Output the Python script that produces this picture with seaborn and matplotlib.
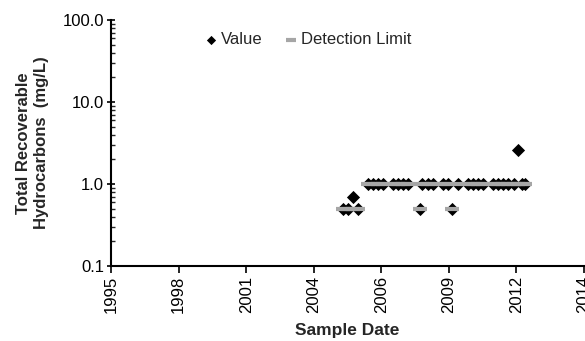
import numpy as np
import pandas as pd
import matplotlib
matplotlib.use('Agg')
import matplotlib.pyplot as plt
import matplotlib.dates as mdates
from matplotlib.ticker import LogLocator, FixedFormatter, NullFormatter
import seaborn as sns

# sample data
sample_dates = ['2005-03-20', '2005-06-05', '2005-08-18', '2005-10-31',
                '2006-03-28', '2006-06-10', '2006-08-23', '2006-11-05',
                '2007-04-02', '2007-06-15', '2007-08-28', '2007-11-10',
                '2008-05-05', '2008-06-04', '2008-09-01', '2008-11-14',
                '2009-04-11', '2009-06-24', '2009-08-22', '2009-11-19',
                '2010-04-16', '2010-06-29', '2010-09-11', '2010-11-24',
                '2011-04-22', '2011-07-05', '2011-09-17', '2011-11-30',
                '2012-02-20', '2012-04-20', '2012-06-20', '2012-08-10']
values = [0.5, 0.5, 0.7, 0.5,
          1.0, 1.0, 1.0, 1.0,
          1.0, 1.0, 1.0, 1.0,
          0.5, 1.0, 1.0, 1.0,
          1.0, 1.0, 0.5, 1.0,
          1.0, 1.0, 1.0, 1.0,
          1.0, 1.0, 1.0, 1.0,
          1.0, 2.6, 1.0, 1.0]
detection_limits = [0.5, 0.5, 0.5, 0.5,
                    1.0, 1.0, 1.0, 1.0,
                    1.0, 1.0, 1.0, 1.0,
                    0.5, 1.0, 1.0, 1.0,
                    1.0, 1.0, 0.5, 1.0,
                    1.0, 1.0, 1.0, 1.0,
                    1.0, 1.0, 1.0, 1.0,
                    1.0, 1.0, 1.0, 1.0]
y_ticks = [0.1, 1.0, 10.0, 100.0]
y_tick_labels = ['0.1', '1.0', '10.0', '100.0']

df = pd.DataFrame({'date': pd.to_datetime(sample_dates),
                   'value': values, 'dl': detection_limits})

sns.set_style('ticks')
plt.rcParams['font.family'] = ['Liberation Sans', 'DejaVu Sans']

fig = plt.figure(figsize=(5.85, 3.41), dpi=100)
ax = fig.add_axes([111 / 585, 1 - 266 / 341, 473 / 585, 246 / 341])

sns.scatterplot(data=df, x='date', y='value', ax=ax, marker='D', s=45,
                color='black', edgecolor='black', linewidth=0, label='Value', zorder=3)
sns.scatterplot(data=df, x='date', y='dl', ax=ax, marker='_', s=110,
                color='#a6a6a6', linewidth=3, label='Detection Limit', zorder=4)

ax.set_yscale('log')
ax.set_ylim(0.1, 100)
ax.yaxis.set_major_locator(plt.FixedLocator(y_ticks))
ax.yaxis.set_major_formatter(FixedFormatter(y_tick_labels))
ax.yaxis.set_minor_locator(LogLocator(base=10, subs=np.arange(2, 10)))
ax.yaxis.set_minor_formatter(NullFormatter())

start = pd.Timestamp('1995-10-28')
x_ticks = [start + pd.Timedelta(days=1000 * k) for k in range(8)]
ax.set_xlim(x_ticks[0], x_ticks[-1])
ax.set_xticks(x_ticks)
ax.xaxis.set_major_formatter(mdates.DateFormatter('%Y'))
plt.setp(ax.get_xticklabels(), rotation=90)

for s in ['top', 'right']:
    ax.spines[s].set_visible(False)
for s in ['left', 'bottom']:
    ax.spines[s].set_linewidth(1.5)
    ax.spines[s].set_color('black')

ax.tick_params(axis='x', which='major', direction='out', length=5, width=1.2,
               labelsize=12, colors='black', pad=2)
ax.tick_params(axis='y', which='major', direction='inout', length=6, width=1.2,
               labelsize=12, colors='black', pad=2)
ax.tick_params(axis='y', which='minor', direction='in', length=3, width=1)

ax.set_xlabel('Sample Date', fontsize=12.5, fontweight='bold', labelpad=7)
ax.set_ylabel('Total Recoverable\nHydrocarbons  (mg/L)', fontsize=12,
              fontweight='bold', labelpad=10)

ax.legend(loc='center', bbox_to_anchor=(0.414, 0.919), ncol=2, frameon=False,
          fontsize=12, handletextpad=0.1, handlelength=1.0, columnspacing=1.2,
          markerscale=0.7)

fig.savefig('out.png', dpi=100)
